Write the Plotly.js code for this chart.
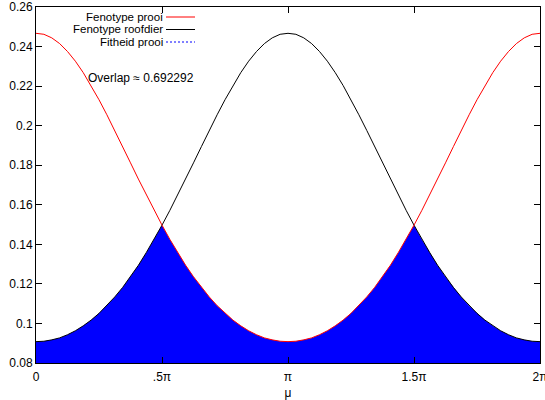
<!DOCTYPE html>
<html>
<head>
<meta charset="utf-8">
<script src="https://cdn.plot.ly/plotly-3.0.1.min.js"></script>
<style>html,body{margin:0;padding:0;background:#fff;}#chart{width:545px;height:400px;}</style>
</head>
<body>
<div id="chart"></div>
<script>
// mu in units of pi
const mu = [0,0.03125,0.0625,0.09375,0.125,0.15625,0.1875,0.21875,0.25,0.28125,0.3125,0.34375,0.375,0.40625,0.4375,0.46875,
  0.5,0.53125,0.5625,0.59375,0.625,0.65625,0.6875,0.71875,0.75,0.78125,0.8125,0.84375,0.875,0.90625,0.9375,0.96875,
  1,1.03125,1.0625,1.09375,1.125,1.15625,1.1875,1.21875,1.25,1.28125,1.3125,1.34375,1.375,1.40625,1.4375,1.46875,
  1.5,1.53125,1.5625,1.59375,1.625,1.65625,1.6875,1.71875,1.75,1.78125,1.8125,1.84375,1.875,1.90625,1.9375,1.96875,2];
const fenotypeProoi = [0.2467,0.2462,0.2444,0.2415,0.2375,0.2326,0.2268,0.2203,0.2131,0.2055,0.1976,0.1894,0.1812,0.1730,0.1650,0.1572,
  0.1497,0.1425,0.1358,0.1294,0.1236,0.1182,0.1134,0.1090,0.1051,0.1017,0.0988,0.0963,0.0943,0.0927,0.0917,0.0910,
  0.0908,0.0910,0.0917,0.0927,0.0943,0.0963,0.0988,0.1017,0.1051,0.1090,0.1134,0.1182,0.1236,0.1294,0.1358,0.1425,
  0.1497,0.1572,0.1650,0.1730,0.1812,0.1894,0.1976,0.2055,0.2131,0.2203,0.2268,0.2326,0.2375,0.2415,0.2444,0.2462,0.2467];
const fenotypeRoofdier = [0.0908,0.0910,0.0917,0.0927,0.0943,0.0963,0.0988,0.1017,0.1051,0.1090,0.1134,0.1182,0.1236,0.1294,0.1358,0.1425,
  0.1497,0.1572,0.1650,0.1730,0.1812,0.1894,0.1976,0.2055,0.2131,0.2203,0.2268,0.2326,0.2375,0.2415,0.2444,0.2462,
  0.2467,0.2462,0.2444,0.2415,0.2375,0.2326,0.2268,0.2203,0.2131,0.2055,0.1976,0.1894,0.1812,0.1730,0.1650,0.1572,
  0.1497,0.1425,0.1358,0.1294,0.1236,0.1182,0.1134,0.1090,0.1051,0.1017,0.0988,0.0963,0.0943,0.0927,0.0917,0.0910,0.0908];
const fitheidProoi = fenotypeProoi.map((v, i) => Math.min(v, fenotypeRoofdier[i]));
const xTickVals = [0, 0.5, 1, 1.5, 2];
const xTickText = ['0', '.5π', 'π', '1.5π', '2π'];
const yTickVals = [0.08,0.1,0.12,0.14,0.16,0.18,0.2,0.22,0.24,0.26];
const yTickText = ['0.08','0.1','0.12','0.14','0.16','0.18','0.2','0.22','0.24','0.26'];
const legendNames = ['Fenotype prooi', 'Fenotype roofdier', 'Fitheid prooi'];
const overlapText = 'Overlap ≈ 0.692292';

const L = 36, R = 540, T = 7, B = 363;
const px = x => (x - L) / (R - L);
const py = y => (B - y) / (B - T);

const traces = [
  {x: mu, y: fitheidProoi, type: 'scatter', mode: 'lines', fill: 'tozeroy', fillcolor: '#0000ff',
   line: {width: 0, color: '#0000ff'}, hoverinfo: 'skip', showlegend: false},
  {x: mu, y: fenotypeRoofdier, type: 'scatter', mode: 'lines', line: {color: '#000000', width: 1}, showlegend: false},
  {x: mu, y: fenotypeProoi, type: 'scatter', mode: 'lines', line: {color: '#ff0000', width: 1}, showlegend: false}
];

const legendRows = [16.5, 29, 41.5];
const legendColors = ['#ff0000', '#000000', '#0000ff'];
const legendDash = ['solid', 'solid', '2px,2px'];
const annotations = legendNames.map((n, i) => ({
  text: n, xref: 'paper', yref: 'paper', x: px(164), y: py(legendRows[i]),
  xanchor: 'right', yanchor: 'middle', showarrow: false, font: {size: 11.5, color: '#000'},
  borderpad: 0
}));
annotations.push({text: overlapText, xref: 'paper', yref: 'paper', x: px(86), y: py(78),
  xanchor: 'left', yanchor: 'middle', showarrow: false, font: {size: 12, color: '#000'}});
const shapes = legendNames.map((n, i) => ({
  type: 'line', xref: 'paper', yref: 'paper', x0: px(166), x1: px(195), y0: py(legendRows[i] + 0.5), y1: py(legendRows[i] + 0.5),
  line: {color: legendColors[i], width: 1, dash: legendDash[i]}
}));

const layout = {
  width: 545, height: 400,
  margin: {l: L, r: 545 - R, t: T, b: 400 - B},
  paper_bgcolor: '#fff', plot_bgcolor: '#fff',
  font: {family: 'Liberation Sans, Arial, sans-serif', size: 12, color: '#000'},
  showlegend: false,
  xaxis: {range: [0, 2], tickvals: xTickVals, ticktext: xTickText, ticks: 'inside', ticklen: 6,
    tickcolor: '#000', showline: true, linecolor: '#000', linewidth: 1, mirror: 'ticks',
    showgrid: false, zeroline: false, fixedrange: true, ticklabeloverflow: 'allow', ticklabelstandoff: 3,
    title: {text: 'μ', standoff: 7, font: {size: 12}}},
  yaxis: {range: [0.08, 0.26], tickvals: yTickVals, ticktext: yTickText, ticks: 'inside', ticklen: 6,
    tickcolor: '#000', showline: true, linecolor: '#000', linewidth: 1, mirror: 'ticks',
    showgrid: false, zeroline: false, fixedrange: true},
  annotations: annotations,
  shapes: shapes
};
Plotly.newPlot('chart', traces, layout, {displayModeBar: false, staticPlot: true});
</script>
</body>
</html>
